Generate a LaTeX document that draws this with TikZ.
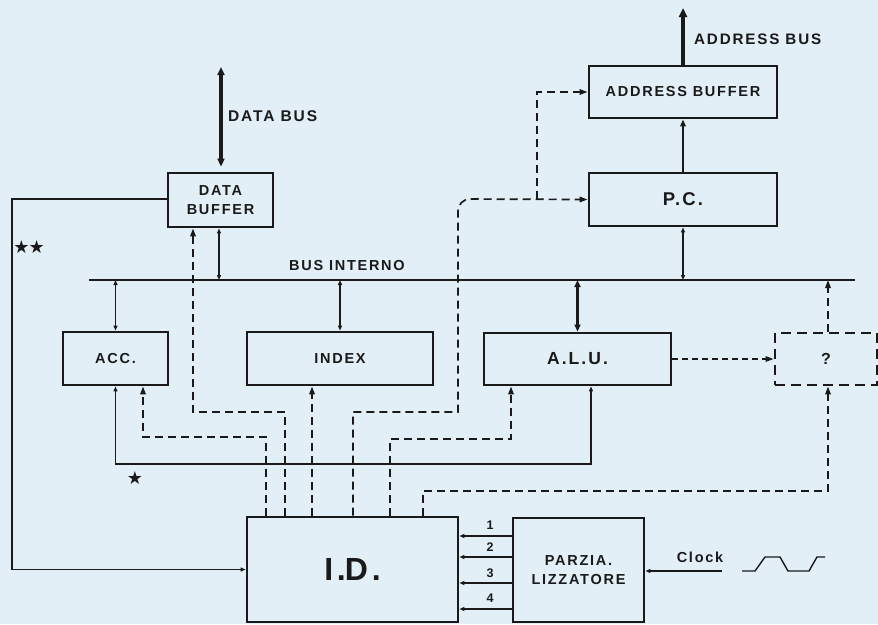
\documentclass[tikz,border=0pt]{standalone}
\usepackage{fontspec}
\setmainfont{Liberation Sans}[LetterSpace=12]
\newfontfamily\symf{DejaVu Sans}
\usetikzlibrary{arrows.meta,calc}
\definecolor{bg}{HTML}{E2EFF7}
\definecolor{ink}{HTML}{1A1A1A}
\begin{document}
\begin{tikzpicture}[x=1pt,y=-1pt,
  box/.style={draw=ink, line width=2.9pt, inner sep=0pt, align=center, text=ink,
    font=\bfseries\fontsize{14.5}{19}\selectfont},
  qbox/.style={box, dash pattern=on 10pt off 6pt},
  lbl/.style={text=ink, inner sep=0pt, font=\bfseries\fontsize{14.5}{17}\selectfont},
  thinl/.style={draw=ink, line width=1.4pt},
  dsh/.style={draw=ink, line width=1.7pt, dash pattern=on 8pt off 5pt},
  fdsh/.style={draw=ink, line width=1.5pt, dash pattern=on 6pt off 4pt},
  tp/.style={-{Triangle[length=8pt,width=5.5pt]}},
  stp/.style={-{Triangle[length=5pt,width=4pt]}},
  sdd/.style={{Triangle[length=5pt,width=4pt]}-{Triangle[length=5pt,width=4pt]}}
]
\fill[bg] (0,0) rectangle (878,624);
\useasboundingbox (0,0) rectangle (878,624);

% boxes
\node[box, minimum width=105pt, minimum height=54pt] (db) at (220.5,200) {DATA\\BUFFER};
\node[box, minimum width=188pt, minimum height=52pt] (ab) at (683,92) {ADDRESS BUFFER};
\node[box, minimum width=188pt, minimum height=53pt, font=\bfseries\fontsize{18.5}{20}\selectfont] (pc) at (683,199.5) {P.C.};
\node[box, minimum width=105pt, minimum height=53pt] (acc) at (115.5,358.5) {ACC.};
\node[box, minimum width=186pt, minimum height=53pt] (idx) at (340,358.5) {INDEX};
\node[box, minimum width=187pt, minimum height=52pt, font=\bfseries\fontsize{17.5}{20}\selectfont] (alu) at (577.5,359) {A.\kern2pt L.\kern2pt U.};
\node[qbox, minimum width=102pt, minimum height=52pt, font=\bfseries\fontsize{16}{18}\selectfont] (q) at (826,359) {?};
\node[box, minimum width=211pt, minimum height=105pt, font=\bfseries\fontsize{32}{36}\selectfont] (id) at (352.5,569.5) {I.\kern-1pt D.};
\node[box, minimum width=131pt, minimum height=104pt] (pz) at (578.5,570) {PARZIA.\\LIZZATORE};

% bus interno
\coordinate (busL) at (89,280);
\coordinate (busR) at (855,280);
\draw[thinl] (busL) -- (busR);
\node[lbl, anchor=base west] (lbus) at (289,270) {BUS INTERNO};

% external buses
\coordinate (dbtop) at (221,67);
\coordinate (dbn) at ($(db.north)+(0.5,-5)$);
\draw[draw=ink, line width=3.8pt, {Triangle[length=8pt,width=7pt]}-{Triangle[length=8pt,width=7pt]}] (dbn) -- (dbtop);
\node[lbl, anchor=base west, font=\bfseries\fontsize{15.5}{17}\selectfont] (ldb) at (228,121) {DATA BUS};
\coordinate (abtop) at (683,8);
\draw[draw=ink, line width=3.2pt, -{Triangle[length=9pt,width=8pt]}] (ab.north) -- (abtop);
\node[lbl, anchor=base west, font=\bfseries\fontsize{15.2}{17}\selectfont] (lab) at (694,44) {ADDRESS BUS};
\draw[draw=ink, line width=2.2pt, -{Triangle[length=7pt,width=5.5pt]}] (pc.north) -- (ab.south);

% connections to internal bus
\coordinate (dbs) at ($(db.south)+(-1.5,0)$);
\draw[thinl, sdd] (dbs) -- (dbs |- busL);
\draw[thinl, sdd] (acc.north) -- (acc.north |- busL);
\draw[thinl, sdd] (idx.north) -- (idx.north |- busL);
\draw[draw=ink, line width=2.2pt, {Triangle[length=7pt,width=6pt]}-{Triangle[length=7pt,width=6pt]}] (alu.north |- busL) -- (alu.north);
\draw[thinl, sdd] (pc.south) -- (pc.south |- busL);
\coordinate (qn) at ($(q.north)+(2,0)$);
\draw[dsh, tp] (qn) -- (qn |- busL);

% ACC - ALU solid link
\coordinate (accalu) at (591,464);
\draw[thinl, sdd] (acc.south) -- (acc.south |- accalu) -- (accalu) -- (accalu |- alu.south);
\node[text=ink, inner sep=0pt, font=\symf\fontsize{18}{18}\selectfont] (st1) at (135,478) {★};

% DATA BUFFER - I.D. solid link
\coordinate (lft) at (12,199);
\draw[thinl, stp] (db.west |- lft) -- (lft) -- (lft |- id.west) -- (id.west);
\node[text=ink, inner sep=0pt, font=\symf\fontsize{18}{18}\selectfont] (st2) at (29,247) {★\kern-1pt★};

% dashed control lines from I.D.
\draw[dsh, tp] (id.north -| 285,0) -- (285,412) -- (193,412) -- (db.south -| 193,0);
\draw[dsh, tp] (id.north -| 266,0) -- (266,437) -- (143,437) -- (acc.south -| 143,0);
\draw[dsh, tp] (id.north -| 312,0) -- (idx.south -| 312,0);
\draw[dsh, tp] (id.north -| 353,0) -- (353,412) -- (458,412) [rounded corners=12pt] -- (458,199) [sharp corners] -- (pc.west);
\draw[dsh, tp] (537,199) -- (537,92) -- (ab.west);
\draw[dsh, tp] (id.north -| 390,0) -- (390,439) -- (511,439) -- (alu.south -| 511,0);
\coordinate (qs) at ($(q.south)+(2,0)$);
\draw[dsh, tp] (id.north -| 423,0) -- (423,491) -- (qs |- 0,491) -- (qs);
\draw[fdsh, tp] (alu.east) -- (q.west);

% PARZIALIZZATORE -> I.D.
\foreach \yy/\lb/\ly in {536/1/525, 557/2/547, 583/3/573, 609/4/598}{
  \draw[thinl, stp] (pz.west |- 0,\yy) -- (id.east |- 0,\yy);
  \node[text=ink, inner sep=0pt, font=\bfseries\fontsize{12.5}{12}\selectfont] at (490,\ly) {\lb};
}

% clock
\coordinate (clk) at (722,571);
\draw[thinl, stp] (clk) -- (pz.east |- clk);
\node[lbl] (lclk) at (700,557) {Clock};
\draw[thinl] (742,571) -- (755,571) -- (765,557) -- (780,557) -- (788,571) -- (809,571) -- (817,557) -- (825,557);
\end{tikzpicture}
\end{document}
